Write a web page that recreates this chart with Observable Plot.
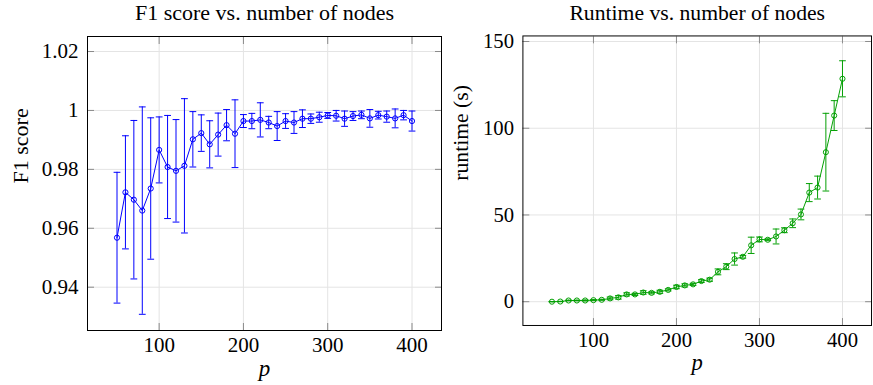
<!DOCTYPE html>
<html><head><meta charset="utf-8">
<script src="https://cdn.jsdelivr.net/npm/d3@7"></script>
<script src="https://cdn.jsdelivr.net/npm/@observablehq/plot@0.6"></script>
<style>
html,body{margin:0;padding:0;background:#fff;overflow:hidden;}
#wrap{position:relative;width:873px;height:385px;overflow:hidden;background:#fff;}
#left,#right{position:absolute;top:0;}
#left{left:0;z-index:2;} #right{left:420px;z-index:1;}
#wrap svg{background:transparent !important;}
#wrap svg, #wrap svg text, #wrap svg g {font-family:"Liberation Serif", serif !important;}
</style></head><body><div id="wrap"><div id="left"></div><div id="right"></div></div>
<script>
// number of nodes p
const nodes = [50,60,70,80,90,100,110,120,130,140,150,160,170,180,190,200,210,220,230,240,250,260,270,280,290,300,310,320,330,340,350,360,370,380,390,400];
// F1 score mean and error (half bar)
const f1Mean = [0.9568,0.9722,0.9697,0.9660,0.9735,0.9866,0.9808,0.9795,0.9812,0.9902,0.9923,0.9885,0.9918,0.9950,0.9921,0.9964,0.9964,0.9968,0.9959,0.9947,0.9964,0.9959,0.9972,0.9972,0.9977,0.9983,0.9982,0.9972,0.9981,0.9985,0.9973,0.9984,0.9979,0.9973,0.9984,0.9964];
const f1Err  = [0.0222,0.0192,0.0269,0.0352,0.0240,0.0112,0.0175,0.0174,0.0228,0.0094,0.0062,0.0080,0.0073,0.0053,0.0115,0.0022,0.0026,0.0058,0.0021,0.0049,0.0025,0.0037,0.0030,0.0016,0.0017,0.0010,0.0018,0.0026,0.0015,0.0013,0.0030,0.0013,0.0019,0.0032,0.0016,0.0034];
// runtime (s) mean and error
const runMean = [0.0,0.1,0.7,0.7,0.7,0.9,1.1,1.9,2.5,4.2,4.2,5.3,5.1,5.7,6.8,8.5,9.4,10.0,11.9,12.7,17.2,20.2,24.6,25.9,32.5,35.9,35.7,37.6,41.2,45.2,50.3,62.9,65.8,86.2,107.3,128.5];
const runErr  = [0.1,0.1,0.2,0.2,0.3,0.3,0.3,0.8,1.0,0.9,0.6,1.0,0.6,0.9,0.6,1.0,0.9,0.6,0.8,0.9,1.7,1.7,3.5,0.8,4.7,1.4,0.5,4.3,1.4,2.5,3.1,5.2,6.6,22.4,8.6,10.4];
// ticks
const xTicks = [100,200,300,400];
const f1Ticks = [0.94,0.96,0.98,1,1.02];
const runTicks = [0,50,100,150];

const FONT = "Liberation Serif";
const capSymbol = {draw(ctx, size){ const w = Math.sqrt(size/Math.PI); ctx.moveTo(-w,0); ctx.lineTo(w,0); }};

function panel({mean, err, yDomain, yTicks, yFormat, color, marginLeft, marginRight, width, title, ylabel, ylabelDx}) {
  const rows = nodes.map((p,i) => ({p, m: mean[i], lo: mean[i]-err[i], hi: mean[i]+err[i]}));
  const tickStyle = {stroke:"#8a8a8a", fill:"none", label:null, tickSize:-7, strokeWidth:1};
  return Plot.plot({
    width, height: 385, marginLeft, marginRight, marginTop: 36, marginBottom: 55,
    x: {domain: [15, 435]},
    y: {domain: yDomain},
    style: {fontFamily: FONT, background: "transparent", color: "black"},
    marks: [
      Plot.gridX({ticks: xTicks, stroke: "#e4e4e4", strokeOpacity: 1}),
      Plot.gridY({ticks: yTicks, stroke: "#e4e4e4", strokeOpacity: 1}),
      Plot.axisX({ticks: xTicks, anchor: "bottom", ...tickStyle}),
      Plot.axisX({ticks: xTicks, anchor: "top", ...tickStyle}),
      Plot.axisY({ticks: yTicks, anchor: "left", ...tickStyle}),
      Plot.axisY({ticks: yTicks, anchor: "right", ...tickStyle}),
      Plot.axisX({ticks: xTicks, anchor: "bottom", tickSize: 0, tickPadding: 7, fontSize: 21, fontFamily: FONT, fontVariant: "normal", label: null, tickFormat: d => String(d)}),
      Plot.axisY({ticks: yTicks, anchor: "left", tickSize: 0, tickPadding: 9, fontSize: 21, fontFamily: FONT, fontVariant: "normal", label: null, tickFormat: yFormat}),
      Plot.ruleX(rows, {x: "p", y1: "lo", y2: "hi", stroke: color, strokeWidth: 1}),
      Plot.dot(rows, {x: "p", y: "lo", symbol: capSymbol, r: 3.4, stroke: color, fill: "none", strokeWidth: 1}),
      Plot.dot(rows, {x: "p", y: "hi", symbol: capSymbol, r: 3.4, stroke: color, fill: "none", strokeWidth: 1}),
      Plot.line(rows, {x: "p", y: "m", stroke: color, strokeWidth: 1}),
      Plot.dot(rows, {x: "p", y: "m", r: 2.6, stroke: color, fill: "none", strokeWidth: 1}),
      Plot.frame({stroke: "black", strokeWidth: 1}),
      Plot.text([title], {frameAnchor: "top", dy: -32, fontSize: 22, fontFamily: FONT, fill: "black"}),
      Plot.text([ylabel], {frameAnchor: "left", dx: ylabelDx, rotate: -90, fontSize: 22, fontFamily: FONT, fill: "black"}),
      Plot.text(["p"], {frameAnchor: "bottom", dy: 45, fontSize: 23, fontFamily: FONT, fontStyle: "italic", fill: "black"})
    ]
  });
}

document.getElementById("left").append(panel({
  mean: f1Mean, err: f1Err, yDomain: [0.9253, 1.0251], yTicks: f1Ticks,
  yFormat: d => String(+d.toFixed(2)), color: "#0000ff",
  marginLeft: 87, marginRight: 19, width: 460,
  title: "F1 score vs. number of nodes", ylabel: "F1 score", ylabelDx: -67
}));
document.getElementById("right").append(panel({
  mean: runMean, err: runErr, yDomain: [-13.7, 153.2], yTicks: runTicks,
  yFormat: d => String(d), color: "#009e00",
  marginLeft: 104, marginRight: 2, width: 460,
  title: "Runtime vs. number of nodes", ylabel: "runtime (s)", ylabelDx: -63
}));
</script></body></html>
